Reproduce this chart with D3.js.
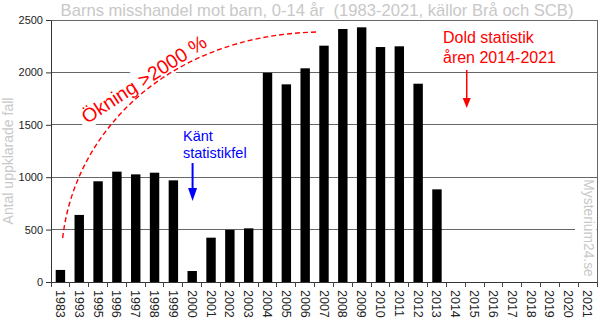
<!DOCTYPE html>
<html><head><meta charset="utf-8">
<script src="https://cdn.jsdelivr.net/npm/d3@7"></script>
<style>
html,body{margin:0;padding:0;background:#fff;}
svg{display:block;}
text{font-family:"Liberation Sans",Arial,sans-serif;}
</style></head>
<body>
<svg id="chart" width="600" height="330"></svg>
<script>
const categories = ["1983","1993","1995","1996","1997","1998","1999","2000","2001","2002","2003","2004","2005","2006","2007","2008","2009","2010","2011","2012","2013","2014","2015","2016","2017","2018","2019","2020","2021"];
const values = [115,640,961,1053,1027,1043,970,105,423,498,512,1996,1886,2039,2255,2414,2430,2242,2249,1892,884,null,null,null,null,null,null,null,null];
const yTicks = [0,500,1000,1500,2000,2500];
const titleText = "Barns misshandel mot barn, 0-14 år  (1983-2021, källor Brå och SCB)";
const yTitle = "Antal uppklarade fall";
const watermark = "Mysterium24.se";

const svg = d3.select("#chart");
const L = 51, R = 597, T = 20, B = 282;

const x = d3.scaleBand().domain(categories).range([L, R]).paddingInner(0.5).paddingOuter(0.25);
const y = d3.scaleLinear().domain([0, 2500]).range([B, T]);
const fx = f => x.range()[0] + f * x.step();

// grid lines
svg.append("g").selectAll("line").data(yTicks.filter(d => d > 0)).join("line")
  .attr("x1", L).attr("x2", R).attr("y1", d => y(d)).attr("y2", d => y(d))
  .attr("stroke", "#666").attr("stroke-width", 1).attr("shape-rendering", "crispEdges");
// right border
svg.append("line").attr("x1", R).attr("x2", R).attr("y1", T).attr("y2", B)
  .attr("stroke", "#666").attr("shape-rendering", "crispEdges");

// bars
svg.append("g").selectAll("rect").data(categories.map((c, i) => ({c, v: values[i]})).filter(d => d.v != null)).join("rect")
  .attr("x", d => x(d.c)).attr("width", x.bandwidth())
  .attr("y", d => y(d.v)).attr("height", d => y(0) - y(d.v))
  .attr("fill", "#000");

// y axis
const yAxis = d3.axisLeft(y).tickValues(yTicks).tickFormat(d3.format("d")).tickSize(5).tickSizeOuter(0).tickPadding(3);
const ya = svg.append("g").attr("transform", `translate(${L},0)`).call(yAxis);
ya.select(".domain").attr("stroke", "#333");
ya.selectAll(".tick line").attr("stroke", "#333");
ya.selectAll(".tick text").attr("font-size", "11px").attr("fill", "#222").attr("font-family", "Liberation Sans, Arial, sans-serif");

// x axis baseline
svg.append("line").attr("x1", L).attr("x2", R).attr("y1", B).attr("y2", B)
  .attr("stroke", "#333").attr("shape-rendering", "crispEdges");
// boundary ticks
svg.append("g").selectAll("line").data(d3.range(categories.length + 1)).join("line")
  .attr("x1", d => fx(d)).attr("x2", d => fx(d)).attr("y1", B).attr("y2", B + 5)
  .attr("stroke", "#444").attr("shape-rendering", "crispEdges");
// x labels
svg.append("g").selectAll("text").data(categories).join("text")
  .attr("transform", d => `translate(${x(d) + x.bandwidth() / 2},${B + 8}) rotate(90)`)
  .attr("dy", "0.36em").attr("text-anchor", "start")
  .attr("font-family", "DejaVu Sans, Verdana, sans-serif").attr("font-size", "12.5px").attr("fill", "#222")
  .text(d => d);

// title
svg.append("text").attr("x", 317).attr("y", 16).attr("text-anchor", "middle")
  .attr("font-size", "16.6px").attr("fill", "#c8c8c8").style("white-space", "pre")
  .text(titleText);

// y title
svg.append("text").attr("transform", `translate(13,${(y(0) + y(2500)) / 2 + 10}) rotate(-90)`)
  .attr("text-anchor", "middle").attr("font-size", "14px").attr("fill", "#c8c8c8")
  .text(yTitle);

// watermark with white background
svg.append("rect").attr("x", R - 22).attr("y", y(950)).attr("width", 21.5).attr("height", B - y(950) - 1).attr("fill", "#fff");
svg.append("text").attr("transform", `translate(584,${y(515)}) rotate(90)`)
  .attr("text-anchor", "middle").attr("font-size", "13.8px").attr("fill", "#c8c8c8")
  .text(watermark);

// "Ökning >2000 %" annotation
const og = svg.append("g").attr("transform", `translate(${fx(4.93)},${y(1937)}) rotate(-33)`);
const obg = og.append("rect").attr("fill", "#fff");
const ot = og.append("text").attr("text-anchor", "middle").attr("dy", "0.36em")
  .attr("font-size", "19.5px").attr("fill", "#ff0000").text("Ökning >2000 %");
const bb = ot.node().getBBox();
obg.attr("x", bb.x - 4).attr("y", bb.y - 2).attr("width", bb.width + 8).attr("height", bb.height + 3);

// dashed growth curve
const p0 = [fx(0.62), y(420)], p1 = [fx(1.27), y(1450)], p2 = [fx(6.32), y(2357)], p3 = [fx(14.13), y(2385)];
const cp = d3.path();
cp.moveTo(p0[0], p0[1]);
cp.bezierCurveTo(p1[0], p1[1], p2[0], p2[1], p3[0], p3[1]);
svg.append("path").attr("d", cp.toString()).attr("fill", "none")
  .attr("stroke", "#ff0000").attr("stroke-width", 1.4).attr("stroke-dasharray", "5,3");

// arrows
function arrow(xc, y1, y2, color, sw, hl, hw) {
  svg.append("line").attr("x1", xc).attr("x2", xc).attr("y1", y1).attr("y2", y2 - hl + 1)
    .attr("stroke", color).attr("stroke-width", sw);
  svg.append("path").attr("d", `M${xc - hw / 2},${y2 - hl} L${xc + hw / 2},${y2 - hl} L${xc},${y2} Z`).attr("fill", color);
}

// "Känt statistikfel"
const kt = svg.append("text").attr("x", fx(7.01)).attr("y", y(1345)).attr("font-size", "14.5px").attr("fill", "#0000ff");
kt.append("tspan").attr("x", fx(7.01)).text("Känt");
kt.append("tspan").attr("x", fx(7.01)).attr("dy", 17).text("statistikfel");
arrow(fx(7.52), y(1135), y(773), "#0000ff", 2, 13, 9);

// "Dold statistik åren 2014-2021"
const dt = svg.append("text").attr("x", fx(20.82)).attr("y", y(2281)).attr("font-size", "16px").attr("fill", "#ff0000");
dt.append("tspan").attr("x", fx(20.82)).text("Dold statistik");
dt.append("tspan").attr("x", fx(20.82)).attr("dy", 20).text("åren 2014-2021");
arrow(fx(22.08), y(2023), y(1660), "#ff0000", 1.5, 10, 8);
</script>
</body></html>
